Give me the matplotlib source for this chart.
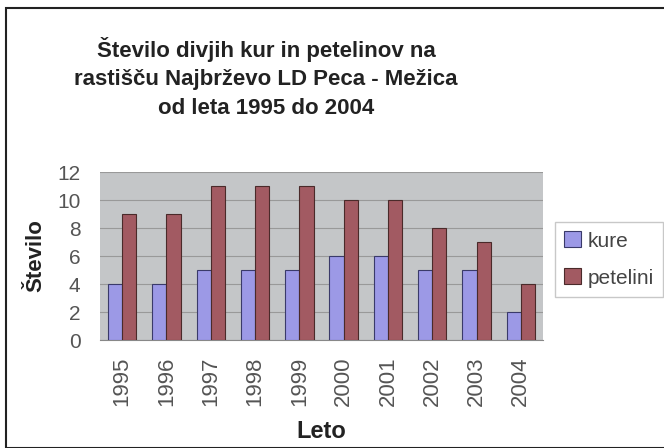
import numpy as np
import matplotlib
matplotlib.use("Agg")
import matplotlib.pyplot as plt
from matplotlib.patches import Rectangle

leta = ["1995", "1996", "1997", "1998", "1999", "2000", "2001", "2002", "2003", "2004"]
kure = [4, 4, 5, 5, 5, 6, 6, 5, 5, 2]
petelini = [9, 9, 11, 11, 11, 10, 10, 8, 7, 4]

plt.rcParams['font.family'] = ['Liberation Sans', 'DejaVu Sans']

fig = plt.figure(figsize=(6.64, 4.48), dpi=100)
ax = fig.add_axes([100 / 664, 1 - 340 / 448, 443 / 664, 168 / 448])

# outer frame
fig.patches.append(Rectangle((6 / 664, 0.0), 1.0, 1 - 8 / 448, transform=fig.transFigure,
                             fill=False, edgecolor="#222222", linewidth=1.5))

x = np.arange(len(leta))
w = 0.32
ax.set_facecolor("#c4c6c8")
ax.bar(x - w / 2, kure, w, color="#9c99e6", edgecolor="#3a3a6a", linewidth=0.8, label="kure", zorder=3)
ax.bar(x + w / 2, petelini, w, color="#a25a62", edgecolor="#4a2a2a", linewidth=0.8, label="petelini", zorder=3)

ax.set_xlim(-0.5, len(leta) - 0.5)
ax.set_ylim(0, 12)
ax.set_yticks(range(0, 13, 2))
ax.grid(axis="y", color="#999999", linewidth=0.8, zorder=0)
ax.set_xticks(x)
ax.set_xticklabels(leta, rotation=90, fontsize=16, color="#555555")
ax.tick_params(axis="y", labelsize=15, labelcolor="#555555", length=0, pad=14)
ax.tick_params(axis="x", length=0, pad=12)
for s in ["top", "right", "left"]:
    ax.spines[s].set_visible(False)
ax.spines["bottom"].set_color("#888888")

ax.set_ylabel("Število", fontsize=16, fontweight="bold", color="#222222", labelpad=8)
ax.set_xlabel("Leto", fontsize=17, fontweight="bold", color="#222222", labelpad=10)

fig.text(266 / 664, 1 - 78 / 448,
         "Število divjih kur in petelinov na\nrastišču Najbrževo LD Peca - Mežica\nod leta 1995 do 2004",
         ha="center", va="center", fontsize=16, fontweight="bold", color="#222222",
         linespacing=1.5)

leg = fig.legend(loc="upper left", bbox_to_anchor=(555 / 664, 1 - 222 / 448), fontsize=15,
                 frameon=True, fancybox=False, edgecolor="#bbbbbb", handlelength=0.8,
                 handleheight=0.8, handletextpad=0.3, borderpad=0.45, labelspacing=0.85,
                 borderaxespad=0)
for t in leg.get_texts():
    t.set_color("#444444")

fig.savefig("out.png", dpi=100)
